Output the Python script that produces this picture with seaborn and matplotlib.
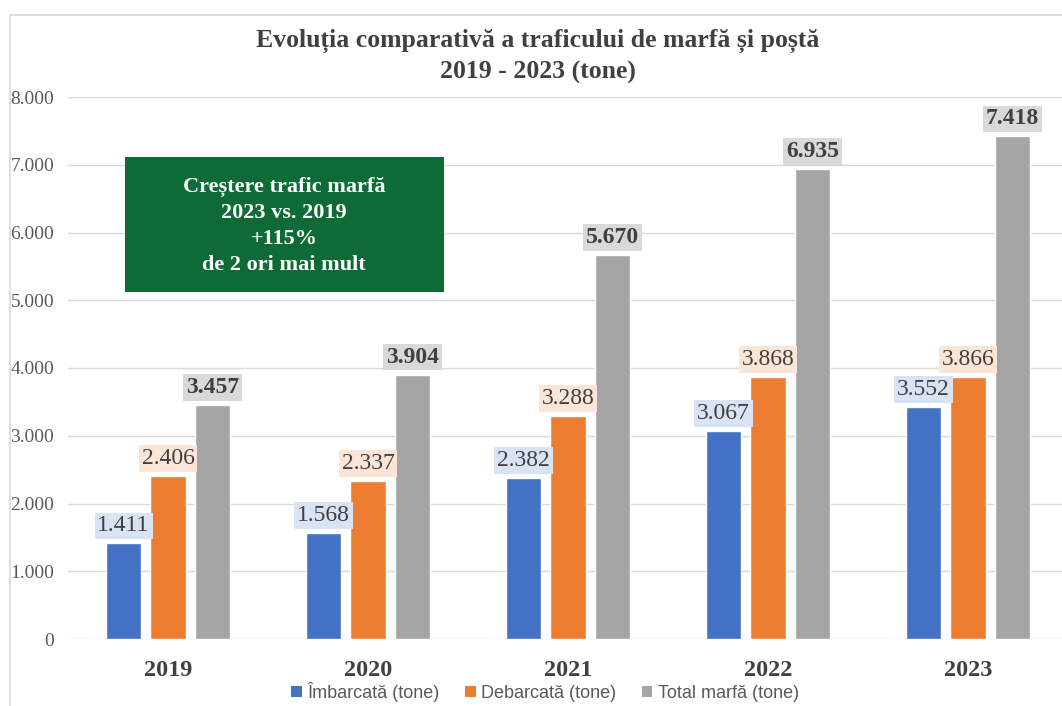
import pandas as pd
import matplotlib.pyplot as plt
import seaborn as sns
from matplotlib.patches import Rectangle, Patch

ani = ['2019', '2020', '2021', '2022', '2023']
serii = ['Îmbarcată (tone)', 'Debarcată (tone)', 'Total marfă (tone)']
imbarcata = [1411, 1568, 2382, 3067, 3430]
debarcata = [2406, 2337, 3288, 3868, 3866]
total = [3457, 3904, 5670, 6935, 7418]
# etichetele afisate (pentru 2023 eticheta difera de inaltimea barei)
imbarcata_et = [1411, 1568, 2382, 3067, 3552]
debarcata_et = debarcata
total_et = total
y_ticks = [0, 1000, 2000, 3000, 4000, 5000, 6000, 7000, 8000]
caseta = 'Creștere trafic marfă\n2023 vs. 2019\n+115%\nde 2 ori mai mult'

culori = ['#4472C4', '#ED7D31', '#A5A5A5']
fundal_et = ['#DAE3F3', '#FBE5D6', '#D9D9D9']

df = pd.DataFrame({
    'An': ani * 3,
    'Serie': [serii[0]] * 5 + [serii[1]] * 5 + [serii[2]] * 5,
    'Valoare': imbarcata + debarcata + total,
})

sns.set_theme(style='white')
plt.rcParams['font.family'] = ['Liberation Serif', 'DejaVu Serif']

fig = plt.figure(figsize=(10.62, 7.06), dpi=100)
fig.patches.append(Rectangle((10 / 1062, -0.1), 1.2, 1 - 15 / 706 + 0.1,
                             transform=fig.transFigure, fill=False,
                             edgecolor='#D9D9D9', linewidth=1.2))

ax = fig.add_axes([68 / 1062, 1 - 639 / 706, 1000 / 1062, (639 - 97) / 706])
sns.barplot(data=df, x='An', y='Valoare', hue='Serie', hue_order=serii,
            palette=culori, width=0.667, gap=0.21, saturation=1,
            ax=ax, legend=False)

ax.set_ylim(0, 8000)
ax.set_xlim(-0.5, 4.5)
ax.set_yticks(y_ticks)
ax.set_yticklabels([f'{v:,}'.replace(',', '.') for v in y_ticks],
                   fontsize=14, color='#595959')
ax.set_xlabel('')
ax.set_ylabel('')
ax.tick_params(axis='y', length=0, pad=10)
ax.tick_params(axis='x', length=0, pad=15)
for lbl in ax.get_xticklabels():
    lbl.set_fontsize(17.5)
    lbl.set_fontweight('bold')
    lbl.set_color('#404040')
ax.grid(axis='y', color='#D9D9D9', linewidth=1)
ax.set_axisbelow(True)
for s in ax.spines.values():
    s.set_visible(False)

etichete = [imbarcata_et, debarcata_et, total_et]
for k, cont in enumerate(ax.containers):
    for j, bar in enumerate(cont):
        txt = f'{etichete[k][j]:,}'.replace(',', '.')
        ax.annotate(txt, (bar.get_x() + bar.get_width() / 2, bar.get_height()),
                    xytext=(0, 5), textcoords='offset points',
                    ha='center', va='bottom', fontsize=17,
                    fontweight='bold' if k == 2 else 'normal',
                    color='#404040',
                    bbox=dict(boxstyle='square,pad=0.12', facecolor=fundal_et[k],
                              edgecolor='none'))

fig.text(538 / 1062, 1 - 41 / 706, 'Evoluția comparativă a traficului de marfă și poștă',
         ha='center', va='center', fontsize=18.5, fontweight='bold', color='#404040')
fig.text(538 / 1062, 1 - 72 / 706, '2019 - 2023 (tone)',
         ha='center', va='center', fontsize=18.5, fontweight='bold', color='#404040')

fig.patches.append(Rectangle((125 / 1062, 1 - 292 / 706), 319 / 1062, 135 / 706,
                             transform=fig.transFigure, facecolor='#0F6B36',
                             edgecolor='none'))
fig.text(284 / 1062, 1 - 226 / 706, caseta, ha='center', va='center',
         fontsize=16, fontweight='bold', color='white', linespacing=1.4)

handles = [Patch(facecolor=c, edgecolor='none') for c in culori]
fig.legend(handles, serii, loc='center', bbox_to_anchor=(545 / 1062, 1 - 692 / 706),
           ncol=3, frameon=False, handlelength=0.6, handleheight=0.6,
           handletextpad=0.3, columnspacing=1.4,
           prop={'family': ['Liberation Sans Narrow', 'Liberation Sans'], 'size': 13},
           labelcolor='#595959')

fig.savefig('out.png', dpi=100)
